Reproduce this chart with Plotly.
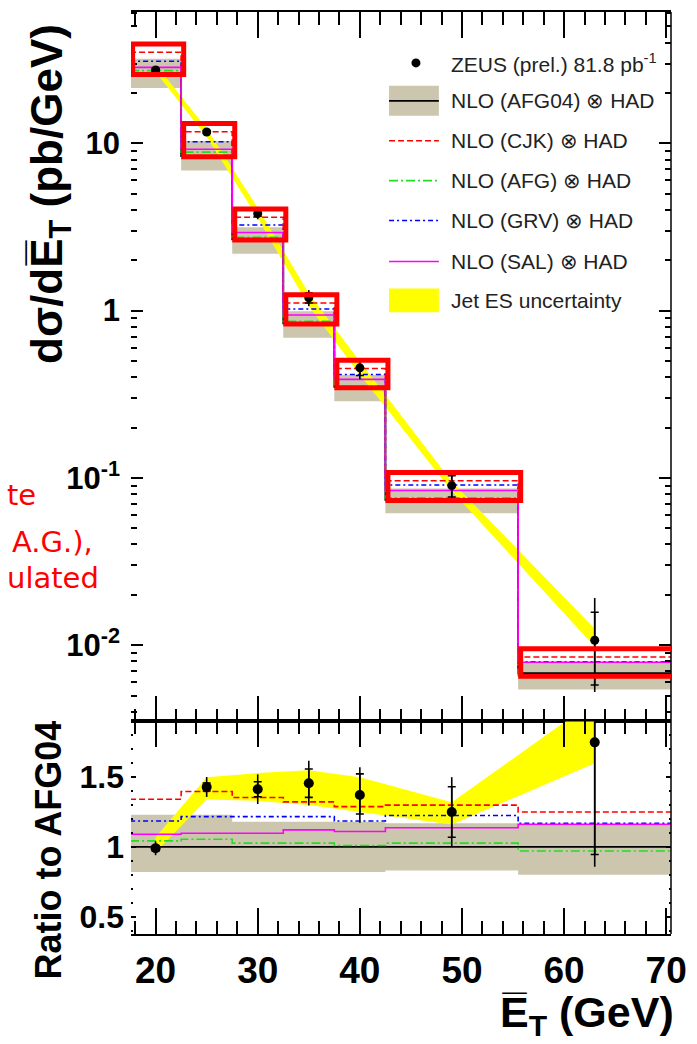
import math
import plotly.graph_objects as go

# ---------------- data ----------------
bin_edges = [17.5, 22.5, 27.5, 32.5, 37.5, 42.5, 55.5, 70.5]
et_points = [20, 25, 30, 35, 40, 49, 63]

# ZEUS (prel.) cross section, pb/GeV
zeus_xsec = [27.5, 11.7, 3.81, 1.195, 0.455, 0.090, 0.0107]
# relative uncertainties (fraction of value)
zeus_tot_up = [0.05, 0.05, 0.075, 0.11, 0.145, 0.20, 0.79]
zeus_tot_dn = [0.05, 0.05, 0.075, 0.11, 0.145, 0.20, 0.51]
zeus_stat_up = [0.02, 0.02, 0.038, 0.07, 0.11, 0.145, 0.47]
zeus_stat_dn = [0.02, 0.02, 0.038, 0.07, 0.10, 0.145, 0.46]

# NLO (AFG04) x HAD, pb/GeV, and its uncertainty band (ratio to central)
afg04_xsec = [26.1, 8.4, 2.67, 0.84, 0.35, 0.074, 0.0068]
afg04_band_lo = [0.82, 0.82, 0.82, 0.82, 0.82, 0.83, 0.80]
afg04_band_hi = [1.23, 1.23, 1.18, 1.18, 1.18, 1.17, 1.16]

# other NLO predictions as ratio to AFG04
ratio_cjk = [1.342, 1.397, 1.354, 1.323, 1.289, 1.30, 1.25]
ratio_afg = [1.043, 1.055, 1.027, 1.027, 1.01, 1.027, 0.97]
ratio_grv = [1.186, 1.217, 1.217, 1.217, 1.186, 1.225, 1.17]
ratio_sal = [1.091, 1.098, 1.098, 1.122, 1.110, 1.137, 1.163]

# data / AFG04 and jet energy scale uncertainty band
zeus_ratio = [0.99, 1.43, 1.414, 1.457, 1.373, 1.25, 1.75]
jes_ratio_lo = [0.96, 1.34, 1.33, 1.30, 1.25, 1.16, 1.60]
jes_ratio_hi = [1.07, 1.50, 1.53, 1.55, 1.50, 1.32, 2.05]

legend_labels = [
    "ZEUS (prel.) 81.8 pb<sup>-1</sup>",
    "NLO (AFG04) \u2297 HAD",
    "NLO (CJK) \u2297 HAD",
    "NLO (AFG) \u2297 HAD",
    "NLO (GRV) \u2297 HAD",
    "NLO (SAL) \u2297 HAD",
    "Jet ES uncertainty",
]

# ---------------- styling / geometry ----------------
W, H = 697, 1044
ML, MR, MT, MB = 131, 24, 10, 110
PW = W - ML - MR
PH = H - MT - MB


def pxx(x):
    return (x - ML) / PW


def pxy(y):
    return (H - MB - y) / PH


SPLIT = pxy(721)
FONT = "Liberation Sans, Arial, Helvetica, sans-serif"
GREY = "#ccc6ae"
YELLOW = "#ffff00"
RED = "#ff0000"
GREEN = "#22dd22"
BLUE = "#0000ff"
MAGENTA = "#ff00ff"
DASH_CJK = "6px,3px"
DASH_AFG = "9px,3px,2px,3px"
DASH_GRV = "5px,3px,2px,3px"


def step(vals):
    return list(vals) + [vals[-1]]


afg04_main = afg04_xsec
theory_main = {
    "cjk": [a * r for a, r in zip(afg04_main, ratio_cjk)],
    "afg": [a * r for a, r in zip(afg04_main, ratio_afg)],
    "grv": [a * r for a, r in zip(afg04_main, ratio_grv)],
    "sal": [a * r for a, r in zip(afg04_main, ratio_sal)],
}
grey_lo_main = [a * r for a, r in zip(afg04_main, afg04_band_lo)]
grey_hi_main = [a * r for a, r in zip(afg04_main, afg04_band_hi)]
jes_lo_main = [d * lo / r for d, lo, r in zip(zeus_xsec, jes_ratio_lo, zeus_ratio)]
jes_hi_main = [d * hi / r for d, hi, r in zip(zeus_xsec, jes_ratio_hi, zeus_ratio)]

fig = go.Figure()


def add_panel(xa, ya, grey_lo, grey_hi, jes_lo, jes_hi, central, cjk, afg, grv, sal,
              pts, tot_up, tot_dn, st_up, st_dn, msize):
    common = dict(xaxis=xa, yaxis=ya, showlegend=False, hoverinfo="skip")
    fig.add_trace(go.Scatter(x=bin_edges, y=step(grey_lo), mode="lines",
                             line=dict(width=0, shape="hv"), **common))
    fig.add_trace(go.Scatter(x=bin_edges, y=step(grey_hi), mode="lines",
                             line=dict(width=0, shape="hv"), fill="tonexty",
                             fillcolor=GREY, **common))
    fig.add_trace(go.Scatter(x=et_points, y=jes_lo, mode="lines",
                             line=dict(width=0), **common))
    fig.add_trace(go.Scatter(x=et_points, y=jes_hi, mode="lines",
                             line=dict(width=0), fill="tonexty",
                             fillcolor=YELLOW, **common))
    fig.add_trace(go.Scatter(x=bin_edges, y=step(central), mode="lines",
                             line=dict(color="black", width=1.8, shape="hv"), **common))
    fig.add_trace(go.Scatter(x=bin_edges, y=step(afg), mode="lines",
                             line=dict(color=GREEN, width=1.6, shape="hv", dash=DASH_AFG), **common))
    fig.add_trace(go.Scatter(x=bin_edges, y=step(grv), mode="lines",
                             line=dict(color=BLUE, width=1.6, shape="hv", dash=DASH_GRV), **common))
    fig.add_trace(go.Scatter(x=bin_edges, y=step(cjk), mode="lines",
                             line=dict(color=RED, width=1.6, shape="hv", dash=DASH_CJK), **common))
    fig.add_trace(go.Scatter(x=bin_edges, y=step(sal), mode="lines",
                             line=dict(color=MAGENTA, width=1.6, shape="hv"), **common))
    # total error bars
    fig.add_trace(go.Scatter(
        x=et_points, y=pts, mode="markers",
        marker=dict(size=1, color="rgba(0,0,0,0)"),
        error_y=dict(type="data", symmetric=False,
                     array=[p * u for p, u in zip(pts, tot_up)],
                     arrayminus=[p * d for p, d in zip(pts, tot_dn)],
                     width=0, thickness=1.6, color="black"), **common))
    # statistical error ticks
    fig.add_trace(go.Scatter(
        x=et_points, y=pts, mode="markers",
        marker=dict(size=1, color="rgba(0,0,0,0)"),
        error_y=dict(type="data", symmetric=False,
                     array=[p * u for p, u in zip(pts, st_up)],
                     arrayminus=[p * d for p, d in zip(pts, st_dn)],
                     width=4, thickness=1.6, color="black"), **common))
    fig.add_trace(go.Scatter(x=et_points, y=pts, mode="markers",
                             marker=dict(size=msize, color="black"), **common))


add_panel("x", "y", grey_lo_main, grey_hi_main, jes_lo_main, jes_hi_main, afg04_main,
          theory_main["cjk"], theory_main["afg"], theory_main["grv"], theory_main["sal"],
          zeus_xsec, zeus_tot_up, zeus_tot_dn, zeus_stat_up, zeus_stat_dn, 9)

ones = [1.0] * len(afg04_xsec)
add_panel("x2", "y2", afg04_band_lo, afg04_band_hi, jes_ratio_lo, jes_ratio_hi, ones,
          ratio_cjk, ratio_afg, ratio_grv, ratio_sal,
          zeus_ratio, zeus_tot_up, zeus_tot_dn, zeus_stat_up, zeus_stat_dn, 10)

# ---------------- axes ----------------
x_range = [17.59, 70.47]
xcommon = dict(range=x_range, tickmode="linear", tick0=0, dtick=10,
               ticks="inside", ticklen=26, tickwidth=1.5, tickcolor="black",
               minor=dict(dtick=2, tick0=0, ticks="inside", ticklen=13,
                          tickwidth=1.5, tickcolor="black"),
               showline=True, linecolor="black", linewidth=1.5, mirror="ticks",
               showgrid=False, zeroline=False)
fig.update_layout(
    xaxis=dict(anchor="y", domain=[0, 1], showticklabels=False, matches="x2", **xcommon),
    xaxis2=dict(anchor="y2", domain=[0, 1], showticklabels=True,
                tickfont=dict(family=FONT, size=37, color="black", weight="bold"),
                ticklabelstandoff=3, **xcommon),
    yaxis=dict(anchor="x", domain=[SPLIT, 1], type="log",
               range=[math.log10(0.0035), math.log10(61)],
               tickmode="array", tickvals=[0.01, 0.1, 1, 10],
               ticktext=["10<sup>-2</sup>", "10<sup>-1</sup>", "1", "10"],
               tickfont=dict(family=FONT, size=31, color="black", weight="bold"),
               ticks="inside", ticklen=12, tickwidth=1.5, tickcolor="black",
               minor=dict(dtick="D1", ticks="inside", ticklen=6, tickwidth=1.5,
                          tickcolor="black"),
               showline=False, mirror="ticks", showgrid=False, zeroline=False,
               ticklabelstandoff=10),
    yaxis2=dict(anchor="x2", domain=[0, SPLIT], range=[0.375, 1.9],
                tickmode="array", tickvals=[0.5, 1, 1.5], ticktext=["0.5", "1", "1.5"],
                tickfont=dict(family=FONT, size=32, color="black", weight="bold"),
                ticks="inside", ticklen=5, tickwidth=1.5, tickcolor="black",
                minor=dict(dtick=0.1, tick0=0, ticks="inside", ticklen=2, tickwidth=1.5,
                           tickcolor="black"),
                showline=False, mirror="ticks", showgrid=False, zeroline=False,
                ticklabelstandoff=6),
)

shapes = []
annotations = []

# right-hand frame line
shapes.append(dict(type="line", xref="paper", yref="paper", x0=1, x1=1, y0=0, y1=1,
                   line=dict(color="black", width=1.5), layer="above"))

# red highlight boxes around the theory predictions in each bin
for i in range(len(afg04_main)):
    vals = [afg04_main[i]] + [theory_main[k][i] for k in theory_main]
    lo = min(vals) * 0.99
    hi = max(vals) * 1.12
    shapes.append(dict(type="rect", xref="x", yref="y",
                       x0=bin_edges[i] + 0.25, x1=bin_edges[i + 1] + 0.25,
                       y0=lo, y1=hi,
                       line=dict(color=RED, width=5), fillcolor="rgba(0,0,0,0)",
                       layer="above"))

# ---------------- hand-made legend ----------------
leg_rows = [61, 99, 139, 179, 219, 260, 299]
sx0, sx1, tx = 390, 440, 450
r = 4.5
shapes.append(dict(type="circle", xref="paper", yref="paper",
                   x0=pxx(417 - r), x1=pxx(417 + r), y0=pxy(leg_rows[0] + r), y1=pxy(leg_rows[0] - r),
                   fillcolor="black", line=dict(color="black", width=0)))
shapes.append(dict(type="rect", xref="paper", yref="paper",
                   x0=pxx(sx0), x1=pxx(sx1), y0=pxy(leg_rows[1] + 15), y1=pxy(leg_rows[1] - 15),
                   fillcolor=GREY, line=dict(width=0)))
shapes.append(dict(type="line", xref="paper", yref="paper",
                   x0=pxx(sx0), x1=pxx(sx1), y0=pxy(leg_rows[1]), y1=pxy(leg_rows[1]),
                   line=dict(color="black", width=1.8)))
for row, col, dash in [(2, RED, DASH_CJK), (3, GREEN, DASH_AFG), (4, BLUE, DASH_GRV),
                       (5, MAGENTA, "solid")]:
    shapes.append(dict(type="line", xref="paper", yref="paper",
                       x0=pxx(sx0), x1=pxx(sx1), y0=pxy(leg_rows[row]), y1=pxy(leg_rows[row]),
                       line=dict(color=col, width=1.6, dash=dash)))
shapes.append(dict(type="rect", xref="paper", yref="paper",
                   x0=pxx(sx0), x1=pxx(sx1), y0=pxy(leg_rows[6] + 12), y1=pxy(leg_rows[6] - 12),
                   fillcolor=YELLOW, line=dict(width=0)))
for yrow, lab in zip(leg_rows, legend_labels):
    annotations.append(dict(xref="paper", yref="paper", x=pxx(tx), y=pxy(yrow),
                            xanchor="left", yanchor="middle", showarrow=False, text=lab,
                            font=dict(family=FONT, size=21, color="#222222")))

# ---------------- titles ----------------
annotations.append(dict(xref="paper", yref="paper", x=pxx(49), y=pxy(192),
                        xanchor="center", yanchor="middle", showarrow=False, textangle=-90,
                        text="<b>d\u03c3/dE\u0305<sub>T</sub> (pb/GeV)</b>",
                        font=dict(family=FONT, size=44, color="black")))
annotations.append(dict(xref="paper", yref="paper", x=pxx(48), y=pxy(850),
                        xanchor="center", yanchor="middle", showarrow=False, textangle=-90,
                        text="<b>Ratio to AFG04</b>",
                        font=dict(family=FONT, size=36, color="black")))
annotations.append(dict(xref="paper", yref="paper", x=pxx(678), y=pxy(1015),
                        xanchor="right", yanchor="middle", showarrow=False,
                        text="<b>E\u0305<sub>T</sub> (GeV)</b>",
                        font=dict(family=FONT, size=43, color="black")))

# red slide annotation, partly cut off at the left edge
for txt, xr, yc in [("te", 38, 494), ("A.G.),", 95, 541), ("ulated", 101, 577)]:
    annotations.append(dict(xref="paper", yref="paper", x=pxx(xr), y=pxy(yc),
                            xanchor="right", yanchor="middle", showarrow=False, text=txt,
                            font=dict(family="DejaVu Sans, sans-serif", size=29, color=RED)))

fig.update_layout(
    width=W, height=H,
    margin=dict(l=ML, r=MR, t=MT, b=MB, pad=0),
    paper_bgcolor="white", plot_bgcolor="white",
    showlegend=False,
    shapes=shapes, annotations=annotations,
    font=dict(family=FONT, color="black"),
)

fig.write_html("out.html")
